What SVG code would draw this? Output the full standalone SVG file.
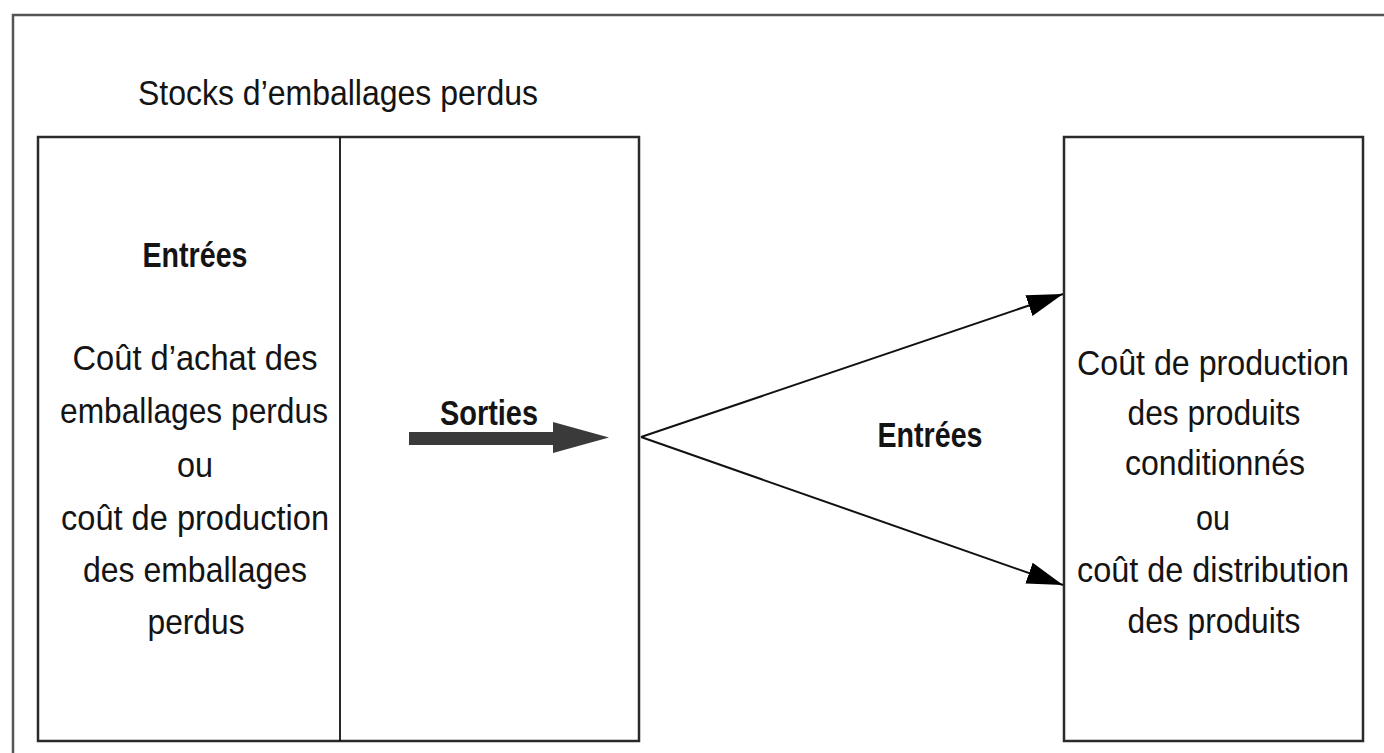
<svg xmlns="http://www.w3.org/2000/svg" width="1384" height="753" viewBox="0 0 1384 753">
  <style>
    .frame { fill: none; stroke: #555; stroke-width: 2.5; }
    .box { fill: none; stroke: #2a2a2a; stroke-width: 2.5; }
    .divider { stroke: #111; stroke-width: 1.8; }
    .conn { stroke: #111; stroke-width: 2; fill: none; }
    text { font-family: "Liberation Sans", Arial, sans-serif; font-size: 35px; fill: #141414; text-anchor: middle; }
    .b { font-weight: bold; }
  </style>
  <defs>
    <marker id="head" markerUnits="userSpaceOnUse" markerWidth="40" markerHeight="24" refX="36" refY="11" orient="auto">
      <path d="M0,0 L36,11 L0,22 Z" fill="#000"/>
    </marker>
  </defs>

  <rect width="1384" height="753" fill="#fff"/>

  <!-- outer frame (runs off the right and bottom edges) -->
  <path class="frame" d="M13,760 L13,15 L1390,15"/>

  <!-- title -->
  <text x="338" y="105" textLength="400" lengthAdjust="spacingAndGlyphs">Stocks d’emballages perdus</text>

  <!-- stock account: entries | exits -->
  <g id="stock">
    <rect class="box" x="38" y="137" width="601" height="604"/>
    <line class="divider" x1="340" y1="137" x2="340" y2="741"/>
    <text class="b" x="195" y="267" textLength="105" lengthAdjust="spacingAndGlyphs">Entrées</text>
    <text x="195" y="370" textLength="245" lengthAdjust="spacingAndGlyphs">Coût d’achat des</text>
    <text x="194" y="423" textLength="268" lengthAdjust="spacingAndGlyphs">emballages perdus</text>
    <text x="195" y="477" textLength="36" lengthAdjust="spacingAndGlyphs">ou</text>
    <text x="195" y="530" textLength="268" lengthAdjust="spacingAndGlyphs">coût de production</text>
    <text x="195" y="582" textLength="224" lengthAdjust="spacingAndGlyphs">des emballages</text>
    <text x="196" y="634" textLength="97" lengthAdjust="spacingAndGlyphs">perdus</text>
  </g>

  <!-- exits arrow -->
  <g id="sorties">
    <text class="b" x="489" y="425" textLength="98" lengthAdjust="spacingAndGlyphs">Sorties</text>
    <polygon points="409,432 553,432 553,422 609,437.5 553,453 553,445 409,445" fill="#3a3a3a"/>
  </g>

  <!-- destination costs -->
  <g id="cost">
    <rect class="box" x="1064" y="137" width="299" height="604"/>
    <text x="1213" y="375" textLength="272" lengthAdjust="spacingAndGlyphs">Coût de production</text>
    <text x="1214" y="425" textLength="173" lengthAdjust="spacingAndGlyphs">des produits</text>
    <text x="1215" y="475" textLength="180" lengthAdjust="spacingAndGlyphs">conditionnés</text>
    <text x="1213" y="530" textLength="34" lengthAdjust="spacingAndGlyphs">ou</text>
    <text x="1213" y="582" textLength="272" lengthAdjust="spacingAndGlyphs">coût de distribution</text>
    <text x="1214" y="633" textLength="173" lengthAdjust="spacingAndGlyphs">des produits</text>
  </g>

  <!-- connectors -->
  <g id="connectors">
    <line class="conn" x1="641" y1="437" x2="1063" y2="294" marker-end="url(#head)"/>
    <line class="conn" x1="641" y1="437" x2="1063" y2="585" marker-end="url(#head)"/>
    <text class="b" x="930" y="447" textLength="105" lengthAdjust="spacingAndGlyphs">Entrées</text>
  </g>
</svg>
